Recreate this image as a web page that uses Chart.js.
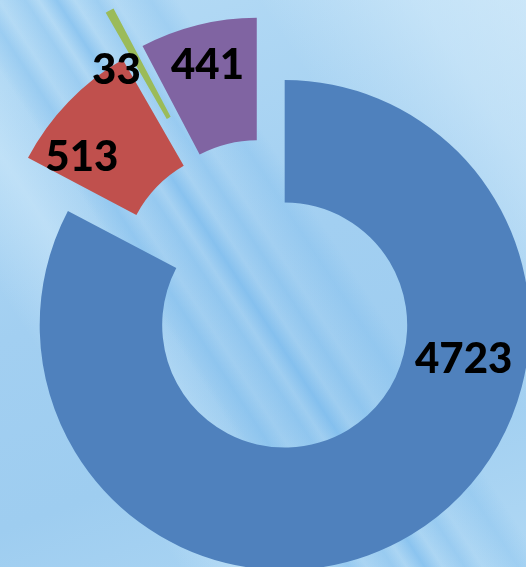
<!DOCTYPE html>
<html>
<head>
<meta charset="utf-8">
<title>Doughnut</title>
<script src="https://cdn.jsdelivr.net/npm/chart.js@4.4.1/dist/chart.umd.min.js"></script>
<style>
    html, body { margin: 0; padding: 0; }
    body {
        width: 526px;
        height: 567px;
        overflow: hidden;
        background:
            linear-gradient(57deg,
                rgba(110,180,235,0) 36%, rgba(110,180,235,0.35) 39%, rgba(110,180,235,0) 41%,
                rgba(110,180,235,0.3) 44%, rgba(110,180,235,0) 45.5%,
                rgba(100,175,235,0.45) 47.5%, rgba(110,180,235,0) 49.5%,
                rgba(110,180,235,0.3) 52%, rgba(110,180,235,0) 54%,
                rgba(110,180,235,0.25) 58%, rgba(110,180,235,0) 61%),
            linear-gradient(57deg,
                rgba(255,255,255,0) 20%, rgba(215,238,252,0.45) 30%, rgba(255,255,255,0) 37%,
                rgba(255,255,255,0) 70%, rgba(220,240,252,0.5) 88%, rgba(225,242,252,0.6) 100%),
            linear-gradient(160deg, #b5dbf5 0%, #a2cff1 45%, #9ecdf0 70%, #b0d8f4 100%);
    }
    #chart { display: block; }
</style>
</head>
<body>
<canvas id="chart" width="526" height="567"></canvas>
<script>
// ===== DATA =====
const categories = ['Category 1', 'Category 2', 'Category 3', 'Category 4'];
const values = [4723, 513, 33, 441];
const sliceColors = ['#4f81bd', '#c0504d', '#9bbb59', '#8064a2'];

// how far each slice is pulled out, and where its label sits (deg shift from mid, radius)
const explode = [41, 26, 74, 28];
const labelShift = [-48.5, -8.5, -6.6, 0];
const labelRadius = [182, 200, 192, 205];

const rad = deg => deg * Math.PI / 180;

// centre of an arc after it has been pulled out
function arcCenter(arc, i) {
    const mid = (arc.startAngle + arc.endAngle) / 2;
    const d = explode[i] || 0;
    return { x: arc.x + Math.cos(mid) * d, y: arc.y + Math.sin(mid) * d, mid };
}

const explodePlugin = {
    id: 'explode',
    // draw each arc translated along its mid angle (like an exploded pie)
    beforeDatasetDraw(chart, args) {
        const ctx = chart.ctx;
        args.meta.data.forEach((arc, i) => {
            const c = arcCenter(arc, i);
            ctx.save();
            ctx.translate(c.x - arc.x, c.y - arc.y);
            arc.draw(ctx);
            ctx.restore();
        });
        return false;
    },
    afterDatasetsDraw(chart) {
        const ctx = chart.ctx;
        const meta = chart.getDatasetMeta(0);
        const size = 42;
        ctx.save();
        ctx.font = `900 ${size}px Lato, "Open Sans", sans-serif`;
        ctx.fillStyle = '#000';
        ctx.textAlign = 'center';
        ctx.textBaseline = 'alphabetic';
        meta.data.forEach((arc, i) => {
            const c = arcCenter(arc, i);
            const a = c.mid + rad(labelShift[i]);
            const x = c.x + Math.cos(a) * labelRadius[i];
            const y = c.y + Math.sin(a) * labelRadius[i];
            ctx.fillText(String(values[i]), x, y + size * 0.36);
        });
        ctx.restore();
    }
};

new Chart(document.getElementById('chart'), {
    type: 'doughnut',
    data: {
        labels: categories,
        datasets: [{
            data: values,
            backgroundColor: sliceColors,
            borderWidth: 0,
            clip: false
        }]
    },
    options: {
        responsive: false,
        animation: false,
        radius: 245,
        cutout: '50%',
        rotation: 0,
        layout: { padding: { left: 1, right: 0, top: 13, bottom: 0 } },
        plugins: {
            legend: { display: false },
            tooltip: { enabled: false }
        }
    },
    plugins: [explodePlugin]
});
</script>
</body>
</html>
